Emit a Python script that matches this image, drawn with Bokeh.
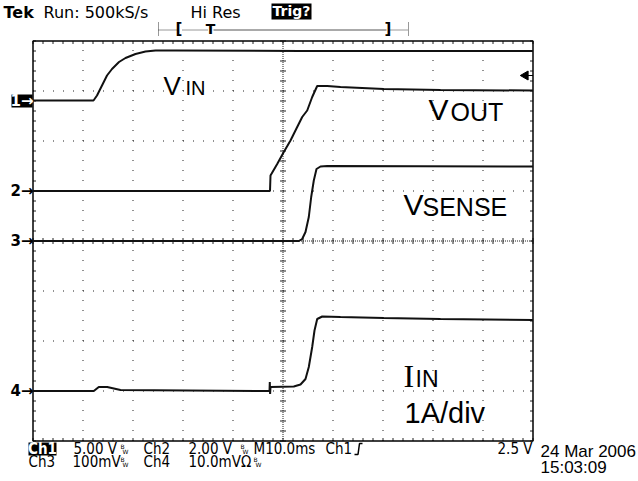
import numpy as np
from bokeh.plotting import figure
from bokeh.models import Range1d
from bokeh.core.properties import value
from bokeh.embed import file_html
from bokeh.resources import INLINE

# ---------------- data (time in ms, amplitude in divisions) ----------------
VIN_T = [-50, -37.9, -37.2, -36.2, -35.2, -34.2, -32.8, -31.5, -29.5, -27.5, -25.5, -21.5, 3.5, 50]
VIN_D = [2.81, 2.81, 2.91, 3.11, 3.31, 3.44, 3.58, 3.66, 3.74, 3.79, 3.81, 3.81, 3.80, 3.80]

VOUT_T = [-50, -2.6, -2.5, -1.16, 0.16, 1.5, 2.84, 3.84, 4.84, 5.84, 6.84, 8.84, 11.5, 20.16, 31.5, 50]
VOUT_D = [1.0, 1.0, 1.31, 1.54, 1.78, 2.01, 2.28, 2.48, 2.61, 2.88, 3.10, 3.10, 3.08, 3.04, 3.02, 3.01]

VSENSE_T = [-50, 3.16, 3.84, 4.5, 5.16, 5.64, 6.16, 6.7, 7.5, 8.84, 50]
VSENSE_D = [0.0, 0.0, 0.04, 0.18, 0.48, 0.88, 1.21, 1.44, 1.49, 1.50, 1.49]

IIN_T = [-50, -37.84, -36.84, -35.16, -32.5, -2.7, -2.64, -2.58, -2.5, 2.16, 3.5, 4.5, 5.16,
         5.84, 6.3, 6.84, 7.84, 11.5, 20.16, 31.5, 50]
IIN_D = [-3.0, -3.0, -2.92, -2.92, -2.98, -3.0, -2.82, -3.06, -2.92, -2.91, -2.87, -2.76, -2.52,
         -2.12, -1.79, -1.56, -1.51, -1.52, -1.54, -1.56, -1.58]

CH_MARKERS = ["1\u2192", "2\u2192", "3\u2192", "4\u2192"]
CH_LEVELS = [2.81, 1.0, 0.0, -3.0]
TRIG_LEVEL = 3.31

HEADER = ["Tek", "Run: 500kS/s", "Hi Res", "Trig?"]
STATUS1 = ["5.00 V", "Ch2", "2.00 V", "M10.0ms", "Ch1", "2.5 V"]
STATUS2 = ["Ch3", "100mV", "Ch4", "10.0mV\u03a9"]
DATE = ["24 Mar 2006", "15:03:09"]

# ---------------- geometry ----------------
OFF = 0
W, H = 638, 481
X0_PX, Y0_PX = 282.5, 240.5
PX_PER_DIV = 50.0
MS_PER_DIV = 10.0


def tx(sx):
    return (sx - X0_PX) / PX_PER_DIV * MS_PER_DIV


def ty(sy):
    return (Y0_PX - sy) / PX_PER_DIV


p = figure(width=W, height=H, x_range=Range1d(tx(OFF), tx(OFF + W)),
           y_range=Range1d(ty(OFF + H), ty(OFF)), output_backend="svg",
           toolbar_location=None, min_border=0, x_axis_location=None,
           y_axis_location=None, outline_line_color=None,
           background_fill_color="white", border_fill_color="white")
p.grid.visible = False

GRID_C = "#222222"
# dotted graticule lines
xs = [t for t in np.arange(-40, 41, 10) if t != 0]
p.segment(x0=xs, y0=[-4] * len(xs), x1=xs, y1=[4] * len(xs), line_color=GRID_C,
          line_width=1, line_dash="1 9")
ys = [d for d in np.arange(-3, 4, 1) if d != 0]
p.segment(x0=[-50] * len(ys), y0=ys, x1=[50] * len(ys), y1=ys, line_color=GRID_C,
          line_width=1, line_dash="1 9")
# centre lines
p.segment(x0=[0, -50], y0=[-4, 0], x1=[0, 50], y1=[4, 0], line_color=GRID_C,
          line_width=1, line_dash="1 1")
tick_d = np.round(np.arange(-4, 4.001, 0.2), 3)
tick_t = np.round(np.arange(-50, 50.001, 2), 3)
p.segment(x0=[-0.6] * len(tick_d), y0=tick_d, x1=[0.6] * len(tick_d), y1=tick_d,
          line_color=GRID_C, line_width=1)
p.segment(x0=tick_t, y0=[-0.06] * len(tick_t), x1=tick_t, y1=[0.06] * len(tick_t),
          line_color=GRID_C, line_width=1)
# border ticks
p.segment(x0=[-50] * len(tick_d), y0=tick_d, x1=[-49.4] * len(tick_d), y1=tick_d,
          line_color=GRID_C, line_width=1)
p.segment(x0=[50] * len(tick_d), y0=tick_d, x1=[49.4] * len(tick_d), y1=tick_d,
          line_color=GRID_C, line_width=1)
p.segment(x0=tick_t, y0=[4] * len(tick_t), x1=tick_t, y1=[3.94] * len(tick_t),
          line_color=GRID_C, line_width=1)
p.segment(x0=tick_t, y0=[-4] * len(tick_t), x1=tick_t, y1=[-3.94] * len(tick_t),
          line_color=GRID_C, line_width=1)
# border
p.quad(left=[-50], right=[50], bottom=[-4], top=[4], fill_color=None,
       line_color="black", line_width=1.5)

# traces
for tt, dd in [(VIN_T, VIN_D), (VOUT_T, VOUT_D), (VSENSE_T, VSENSE_D), (IIN_T, IIN_D)]:
    p.line(tt, dd, line_color="#111111", line_width=2)


def txt(sx, sy, s, size, font="Liberation Sans", color="black", style="normal",
        align="left"):
    # sy is the baseline in screen pixels; place the centre of the capitals there
    cy = sy - 0.36 * size
    p.text(x=[tx(sx)], y=[ty(cy)], text=[s], text_font=value(font),
           text_font_size=value(f"{size}px"), text_color=color,
           text_font_style=style, text_align=align, text_baseline="middle")


def box(l, r, t, b):
    p.quad(left=[tx(l)], right=[tx(r)], top=[ty(t)], bottom=[ty(b)],
           fill_color="black", line_color=None)


# channel markers on the left
box(11, 32, 94, 107)
for i, (m, lvl) in enumerate(zip(CH_MARKERS, CH_LEVELS)):
    p.text(x=[tx(33)], y=[lvl], text=[m], text_font=value("DejaVu Sans"),
           text_font_size=value("15px"), text_font_style="bold",
           text_color="white" if i == 0 else "black", text_align="right",
           text_baseline="middle")

# trigger level arrow at right
p.scatter(x=[tx(525)], y=[TRIG_LEVEL], marker="triangle", size=9, angle=np.pi / 2,
          fill_color="black", line_color="black")
p.segment(x0=[tx(525)], y0=[TRIG_LEVEL], x1=[50], y1=[TRIG_LEVEL], line_color="black",
          line_width=1)

# trace labels
txt(163, 95, "V", 26)
txt(185, 95, "IN", 20)
txt(428, 120, "V", 30)
txt(450, 120, "OUT", 25)
txt(403, 215, "V", 30)
txt(422, 215, "SENSE", 25)
txt(403, 387, "I", 32, font="Liberation Serif")
txt(415, 387, "IN", 23)
txt(404, 423, "1A/div", 29)

# header
txt(3, 17.5, HEADER[0], 16, font="DejaVu Sans", style="bold")
txt(43, 17.5, HEADER[1], 16, font="DejaVu Sans")
txt(190, 17.5, HEADER[2], 16, font="DejaVu Sans")
box(271, 311, 3, 19)
txt(291, 16, HEADER[3], 14, font="DejaVu Sans", style="bold", color="white", align="center")

# record bar
p.segment(x0=[tx(158), tx(408)], y0=[ty(22), ty(22)], x1=[tx(158), tx(408)],
          y1=[ty(36), ty(36)], line_color="#333333", line_dash="1 1")
p.segment(x0=[tx(158), tx(182), tx(390)], y0=[ty(29.5)] * 3,
          x1=[tx(177), tx(207), tx(408)], y1=[ty(29.5)] * 3, line_color="#333333",
          line_dash="1 1")
p.segment(x0=[tx(213)], y0=[ty(29.5)], x1=[tx(386)], y1=[ty(29.5)], line_color="#555555")
txt(175, 34, "[", 15, font="DejaVu Sans", style="bold")
txt(210, 34, "T", 14, font="DejaVu Sans", style="bold", align="center")
txt(384, 34, "]", 15, font="DejaVu Sans", style="bold")

# status lines
NF = "DejaVu Sans Condensed"
box(28, 56, 442, 455)
txt(42, 454, "Ch1", 15, font=NF, style="bold", color="white", align="center")
txt(73, 454, STATUS1[0], 15, font=NF)
txt(143, 454, STATUS1[1], 15, font=NF)
txt(188, 454, STATUS1[2], 15, font=NF)
txt(253, 454, STATUS1[3], 15, font=NF)
txt(325, 454, STATUS1[4], 15, font=NF)
txt(532, 454, STATUS1[5], 15, font=NF, align="right")
p.line([tx(354), tx(357.5), tx(359), tx(362)], [ty(454), ty(454), ty(443), ty(443)],
       line_color="black", line_width=1.5)
txt(28, 467, STATUS2[0], 15, font=NF)
txt(72, 467, STATUS2[1], 15, font=NF)
txt(143, 467, STATUS2[2], 15, font=NF)
txt(188, 467, STATUS2[3], 15, font=NF)
for bx, by in [(120, 448), (240, 448), (120, 461), (253, 461)]:
    txt(bx, by, "B", 6, font="DejaVu Sans")
    txt(bx + 2, by + 5, "W", 6, font="DejaVu Sans")

txt(540, 457, DATE[0], 17)
txt(540, 473, DATE[1], 17)

html = file_html(p, INLINE)
open("out.html", "w").write(html)
